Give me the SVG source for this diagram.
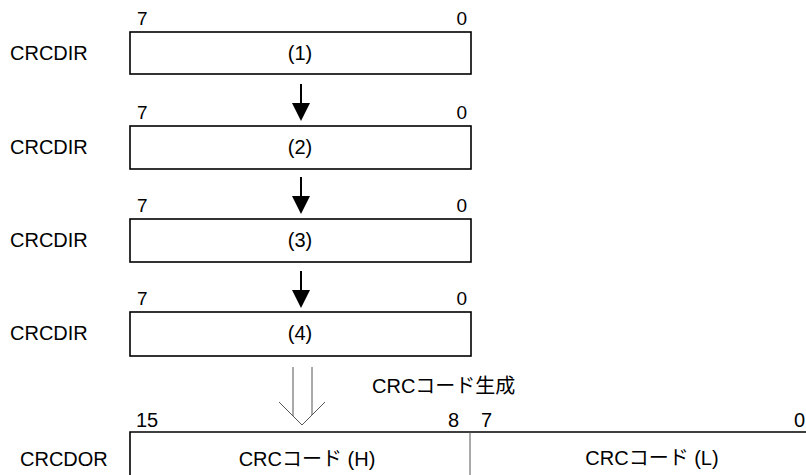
<svg xmlns="http://www.w3.org/2000/svg" width="806" height="475" viewBox="0 0 806 475">
<style>
text{font-family:"Liberation Sans","Noto Sans CJK JP",Arial,sans-serif;fill:#000;}
.lbl{font-size:20px;}
.bit{font-size:19px;}
.bitb{font-size:20px;}
.box{fill:#fff;stroke:#000;stroke-width:1.6;}
.arr{stroke:#000;stroke-width:2;fill:none;}
.hol{stroke:#555;stroke-width:1;fill:none;}
</style>
<rect width="806" height="475" fill="#fff"/>
<g id="reg1">
<text class="lbl" x="10" y="60">CRCDIR</text>
<text class="bit" x="137" y="25">7</text>
<text class="bit" x="467" y="25" text-anchor="end">0</text>
<rect class="box" x="130" y="32" width="341" height="42"/>
<text class="lbl" x="300" y="60" text-anchor="middle">(1)</text>
</g>
<g id="reg2">
<text class="lbl" x="10" y="154">CRCDIR</text>
<text class="bit" x="137" y="119">7</text>
<text class="bit" x="467" y="119" text-anchor="end">0</text>
<rect class="box" x="130" y="126" width="341" height="43"/>
<text class="lbl" x="300" y="154" text-anchor="middle">(2)</text>
</g>
<g id="reg3">
<text class="lbl" x="10" y="247">CRCDIR</text>
<text class="bit" x="137" y="212">7</text>
<text class="bit" x="467" y="212" text-anchor="end">0</text>
<rect class="box" x="130" y="219" width="341" height="43"/>
<text class="lbl" x="300" y="247" text-anchor="middle">(3)</text>
</g>
<g id="reg4">
<text class="lbl" x="10" y="340">CRCDIR</text>
<text class="bit" x="137" y="305">7</text>
<text class="bit" x="467" y="305" text-anchor="end">0</text>
<rect class="box" x="130" y="312" width="341" height="44"/>
<text class="lbl" x="300" y="340" text-anchor="middle">(4)</text>
</g>
<g id="crcdor">
<text class="lbl" x="20" y="466">CRCDOR</text>
<text class="bitb" x="136" y="427">15</text>
<text class="bitb" x="459" y="427" text-anchor="end">8</text>
<text class="bitb" x="481" y="427">7</text>
<text class="bitb" x="794" y="427">0</text>
<path d="M130,480 V432 H812" fill="none" stroke="#000" stroke-width="1.6"/>
<line x1="470" y1="432" x2="470" y2="480" stroke="#555" stroke-width="1"/>
<text class="lbl" x="307" y="466" text-anchor="middle">CRCコード (H)</text>
<text class="lbl" x="652" y="465" text-anchor="middle">CRCコード (L)</text>
</g>
<g id="connectors">
<line class="arr" x1="301" y1="84" x2="301" y2="106"/>
<polygon points="292,103 310,103 301,121" fill="#000"/>
<line class="arr" x1="301" y1="177" x2="301" y2="199"/>
<polygon points="292,196 310,196 301,214" fill="#000"/>
<line class="arr" x1="301" y1="271" x2="301" y2="293"/>
<polygon points="292,290 310,290 301,308" fill="#000"/>
<path class="hol" d="M293,367 V416 M312,367 V415 M279,402 L302,425 L325,402"/>
<text class="lbl" x="372" y="393">CRCコード生成</text>
</g>
</svg>
